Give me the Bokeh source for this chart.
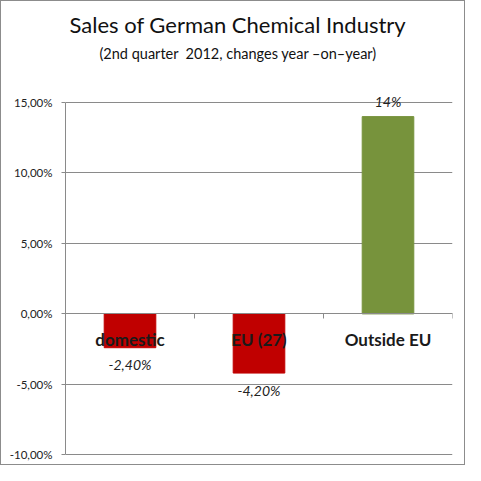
import numpy as np
from bokeh.plotting import figure
from bokeh.models import (Range1d, FixedTicker, CustomJSTickFormatter, Title,
                          ColumnDataSource)
from bokeh.core.properties import value
from bokeh.embed import file_html
from bokeh.resources import INLINE

# ---- data ----
categories = ["domestic", "EU (27)", "Outside EU"]
changes = [-2.40, -4.20, 14.0]          # percent, year-on-year
value_labels = ["-2,40%", "-4,20%", "14%"]
y_ticks = [-10, -5, 0, 5, 10, 15]
title_text = "Sales of German Chemical Industry"
subtitle_text = "(2nd quarter\u00a0 2012, changes year \u2013on\u2013year)"

RED = "#C00000"
GREEN = "#77933C"
GRID = "#8a8a8a"
FONT = "Lato"

x = np.arange(len(categories)) + 0.5
colors = [GREEN if v > 0 else RED for v in changes]
offsets = [-15 if v > 0 else 17 for v in changes]

src = ColumnDataSource(dict(x=x, top=changes, color=colors, lab=value_labels,
                            off=offsets, cat=categories,
                            caty=[-1.8] * len(categories)))

p = figure(width=465, height=465, output_backend="svg", toolbar_location=None,
           x_range=Range1d(0, len(categories)), y_range=Range1d(-10.83, 17.77),
           min_border_left=64, min_border_right=14, min_border_top=62,
           min_border_bottom=0, outline_line_color=None,
           background_fill_color="white", border_fill_color="white")
p.styles = {"border": "1px solid #8c8c8c"}

p.vbar(x="x", top="top", bottom=0, width=0.4, color="color", source=src)

# category labels (drawn inside the plot, over the bars)
p.text(x="x", y="caty", text="cat", source=src, text_align="center",
       text_baseline="middle", text_font=value(FONT), text_font_style="bold",
       text_font_size="17px", text_color="#1a1a1a")
# value labels
p.text(x="x", y="top", text="lab", y_offset="off", source=src,
       text_align="center", text_baseline="middle", text_font=value(FONT),
       text_font_style="italic", text_font_size="14px", text_color="#222222")

# y axis
p.yaxis.ticker = FixedTicker(ticks=y_ticks)
p.yaxis.bounds = (min(y_ticks), max(y_ticks))
p.yaxis.formatter = CustomJSTickFormatter(
    code="return tick.toFixed(2).replace('.', ',') + '%';")
p.yaxis.axis_line_color = GRID
p.yaxis.major_tick_line_color = GRID
p.yaxis.major_tick_out = 4
p.yaxis.major_tick_in = 0
p.yaxis.minor_tick_line_color = None
p.yaxis.major_label_standoff = 9
p.yaxis.major_label_text_font = FONT
p.yaxis.major_label_text_font_size = "11.5px"
p.yaxis.major_label_text_color = "#222222"

p.ygrid.ticker = FixedTicker(ticks=y_ticks)
p.ygrid.grid_line_color = GRID
p.xgrid.grid_line_color = None

# x axis placed on the zero line (category separators as ticks)
p.xaxis.fixed_location = 0
p.xaxis.ticker = FixedTicker(ticks=list(range(len(categories) + 1)))
p.xaxis.major_label_text_font_size = "0px"
p.xaxis.major_label_text_color = None
p.xaxis.major_label_standoff = 0
p.xaxis.axis_line_color = GRID
p.xaxis.major_tick_line_color = GRID
p.xaxis.major_tick_out = 5
p.xaxis.major_tick_in = 0
p.xaxis.minor_tick_line_color = None

# titles
p.add_layout(Title(text=subtitle_text, align="left", offset=34,
                   text_font=FONT, text_font_size="14.5px",
                   text_font_style="normal", text_color="#111111",
                   standoff=4), "above")
p.add_layout(Title(text=title_text, align="left", offset=4,
                   text_font=FONT, text_font_size="22px",
                   text_font_style="normal", text_color="#111111",
                   text_line_height=0.8, standoff=5), "above")

open("out.html", "w").write(file_html(p, INLINE))
